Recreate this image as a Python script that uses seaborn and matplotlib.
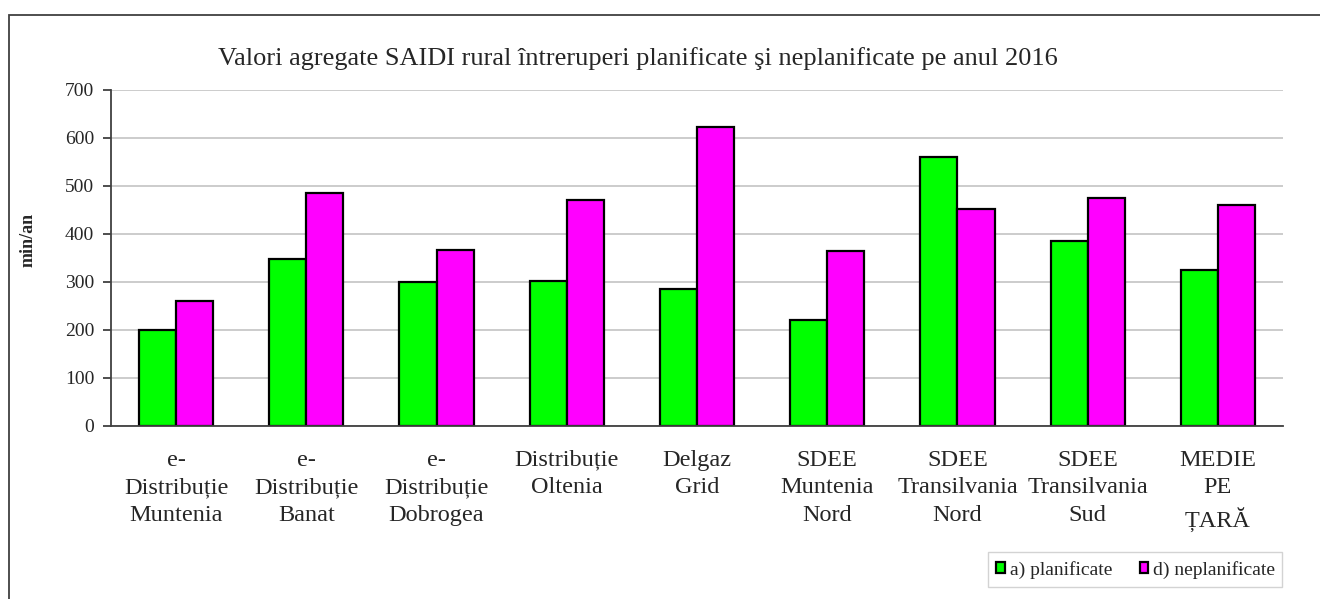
import pandas as pd
import seaborn as sns
import matplotlib.pyplot as plt
from matplotlib.patches import Rectangle

# Operatori de distributie (etichete pe axa X)
operatori = [
    "e-\nDistribuție\nMuntenia",
    "e-\nDistribuție\nBanat",
    "e-\nDistribuție\nDobrogea",
    "Distribuție\nOltenia",
    "Delgaz\nGrid",
    "SDEE\nMuntenia\nNord",
    "SDEE\nTransilvania\nNord",
    "SDEE\nTransilvania\nSud",
    "MEDIE\nPE\nȚARĂ",
]

# Valori SAIDI rural [min/an]
planificate = [199, 347, 301, 302, 286, 220, 561, 386, 326]
neplanificate = [261, 486, 366, 470, 623, 364, 453, 475, 460]

serii = ["a) planificate", "d) neplanificate"]
culori = ["#00FF00", "#FF00FF"]

df = pd.DataFrame({
    "operator": operatori * 2,
    "serie": [serii[0]] * len(operatori) + [serii[1]] * len(operatori),
    "saidi": planificate + neplanificate,
})

sns.set_style("white")
plt.rcParams["font.family"] = ["Liberation Serif", "DejaVu Serif"]

W, H = 1320, 599
fig = plt.figure(figsize=(W / 100, H / 100), dpi=100)
ax = fig.add_axes([111 / W, 1 - 426 / H, (1283 - 111) / W, (426 - 90) / H])

sns.barplot(
    data=df, x="operator", y="saidi", hue="serie",
    palette=culori, width=0.57, edgecolor="black", linewidth=1.6,
    saturation=1, ax=ax, legend=True,
)

# Axe si grila
ax.set_xlim(-0.5, len(operatori) - 0.5)
ax.set_ylim(0, 700)
ax.set_yticks(range(0, 701, 100))
ax.yaxis.grid(True, color="#c8c8c8", linewidth=1.3)
ax.set_axisbelow(True)
for s in ["top", "right"]:
    ax.spines[s].set_visible(False)
for s in ["left", "bottom"]:
    ax.spines[s].set_color("#404040")
    ax.spines[s].set_linewidth(1.3)

ax.set_xticks(range(len(operatori)))
ax.set_xticklabels(operatori, fontsize=17.5, linespacing=1.42)
ax.set_xticks([i - 0.5 for i in range(len(operatori) + 1)], minor=True)
ax.tick_params(axis="x", which="major", length=0, pad=17)
ax.tick_params(axis="x", which="minor", length=6, direction="out", color="#404040", width=1.3)
ax.tick_params(axis="y", length=6, direction="out", color="#404040", width=1.3,
               labelsize=14, left=True, pad=6)

ax.set_xlabel("")
ax.set_ylabel("min/an", fontsize=13, fontweight="bold")
ax.yaxis.set_label_coords(37 / W, 1 - 240 / H, transform=fig.transFigure)

# Titlu
fig.text(218 / W, 1 - 65 / H,
         "Valori agregate SAIDI rural întreruperi planificate şi neplanificate pe anul 2016",
         ha="left", va="baseline", fontsize=19)

# Legenda
leg = ax.legend(
    loc="upper right", bbox_to_anchor=(1282 / W, 1 - 552 / H), bbox_transform=fig.transFigure,
    ncol=2, fontsize=14, frameon=True, fancybox=False, edgecolor="#c8c8c8",
    handlelength=0.45, handleheight=0.45, handletextpad=0.15, columnspacing=1.5,
    borderpad=0.45, borderaxespad=0,
)
leg.get_frame().set_linewidth(1.0)
leg._legend_box.sep = 4
for t in leg.get_texts():
    t.set_x(2)

# Chenar exterior al figurii
fig.patches.append(Rectangle((9 / W, -0.1), 1.2, 1 - 15 / H + 0.1,
                             transform=fig.transFigure, fill=False,
                             edgecolor="#404040", linewidth=1.3))

fig.savefig("out.png", dpi=100)
